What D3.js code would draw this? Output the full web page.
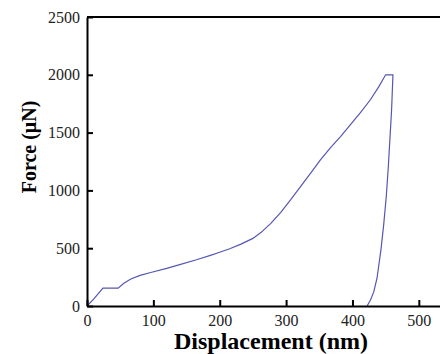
<!DOCTYPE html>
<html>
<head>
<meta charset="utf-8">
<script src="https://cdn.jsdelivr.net/npm/d3@7"></script>
<style>
  body { margin: 0; background: #fff; }
  svg { display: block; }
  text { font-family: "Liberation Serif", "Times New Roman", serif; }
</style>
</head>
<body>
<svg class="entry-point"></svg>
<script>
/* data */
const displacement = [0, 10, 24, 47, 55, 66, 80, 96, 120, 141, 165, 186, 200, 215, 232, 250, 262, 277, 292, 307, 322, 337, 352, 367, 382, 397, 412, 427, 440, 450, 461,
  459, 457, 454, 451, 447, 443, 437, 432, 427, 422]
const force = [0, 60, 155, 155, 195, 233, 265, 290, 325, 360, 400, 438, 465, 495, 535, 585, 635, 715, 810, 920, 1034, 1150, 1267, 1370, 1466, 1570, 1672, 1784, 1900, 2000, 2000,
  1700, 1500, 1200, 950, 700, 490, 240, 120, 50, 0]
const xTicks = [0, 100, 200, 300, 400, 500]
const yTicks = [0, 500, 1000, 1500, 2000, 2500]

const W = 440, H = 354
const svg = d3.select('.entry-point')
  .attr('width', W)
  .attr('height', H)

const x = d3.scaleLinear().domain([0, 550]).range([87, 452])
const y = d3.scaleLinear().domain([0, 2500]).range([306, 17])

const font = '"Liberation Serif", "Times New Roman", serif'

// curve
const pts = displacement.map((d, i) => [d, force[i]])
svg.append('path')
  .datum(pts)
  .attr('fill', 'none')
  .attr('stroke', '#5656b4')
  .attr('stroke-width', 1.2)
  .attr('d', d3.line().x(d => x(d[0])).y(d => y(d[1])))

// x axis
const xAxis = svg.append('g')
  .attr('transform', `translate(0,${y(0)})`)
  .call(d3.axisBottom(x).tickValues(xTicks).tickFormat(d3.format('d')).tickSizeInner(-6).tickSizeOuter(0).tickPadding(9))
xAxis.attr('font-family', font)
xAxis.select('.domain').attr('stroke-width', 2)
xAxis.selectAll('.tick line').attr('stroke-width', 2)
xAxis.selectAll('.tick text')
  .style('font-family', font)
  .attr('font-size', '16px')
  .attr('fill', '#222')

// y axis
const yAxis = svg.append('g')
  .attr('transform', `translate(${x(0)},0)`)
  .call(d3.axisLeft(y).tickValues(yTicks).tickFormat(d3.format('d')).tickSizeInner(-6).tickSizeOuter(0).tickPadding(7))
yAxis.attr('font-family', font)
yAxis.select('.domain').attr('stroke-width', 2)
yAxis.selectAll('.tick line').attr('stroke-width', 2)
yAxis.selectAll('.tick text')
  .style('font-family', font)
  .attr('font-size', '16px')
  .attr('fill', '#222')

// top border
svg.append('line')
  .attr('x1', x(0)).attr('x2', x(550))
  .attr('y1', y(2500)).attr('y2', y(2500))
  .attr('stroke', '#000')
  .attr('stroke-width', 2)

// titles
svg.append('text')
  .attr('x', 271)
  .attr('y', 349)
  .attr('text-anchor', 'middle')
  .style('font-family', font)
  .attr('font-weight', 'bold')
  .attr('font-size', '24px')
  .text('Displacement (nm)')

svg.append('text')
  .attr('transform', 'translate(36,147) rotate(-90)')
  .attr('text-anchor', 'middle')
  .style('font-family', font)
  .attr('font-weight', 'bold')
  .attr('font-size', '20px')
  .text('Force (μN)')
</script>
</body>
</html>
